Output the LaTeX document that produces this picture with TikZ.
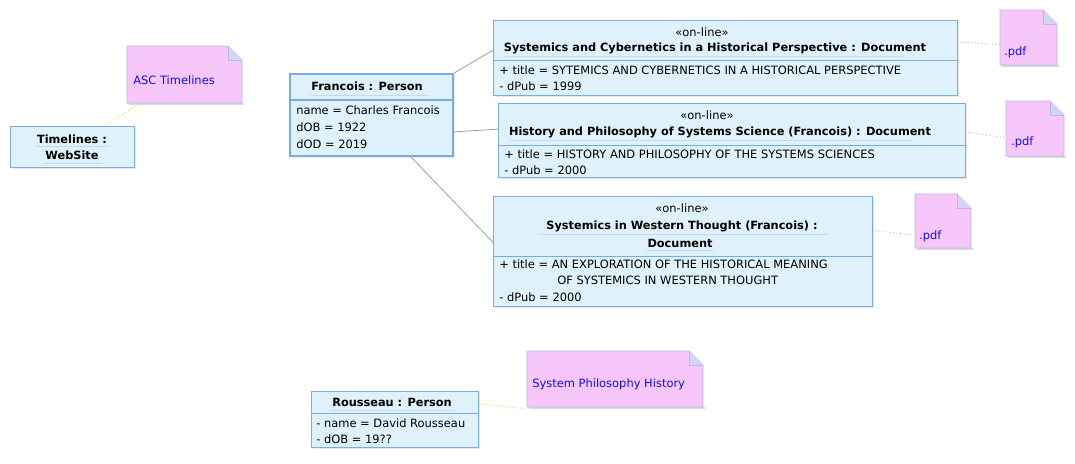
\documentclass[tikz,border=0pt]{standalone}
\usepackage{fontspec}
\setmainfont{DejaVu Sans}
\usetikzlibrary{shadows,calc}
\definecolor{boxfill}{HTML}{DFF2FC}
\definecolor{boxline}{HTML}{7AACDC}
\definecolor{notefill}{HTML}{F7C6FB}
\definecolor{noteline}{HTML}{B8B8F0}
\definecolor{notetext}{HTML}{1010E0}
\tikzset{
  obj/.style={draw=boxline,fill=boxfill,anchor=north west,inner sep=0,
     drop shadow={shadow xshift=1.2pt,shadow yshift=-1.2pt,fill=gray!35}},
  objthick/.style={obj,line width=1.6pt},
  hole/.style={anchor=north west,inner sep=0},
  txt/.style={font=\fontsize{8.6}{10}\selectfont,inner sep=0},
  btxt/.style={font=\fontsize{8.5}{10}\selectfont\bfseries,inner sep=0},
  ntxt/.style={font=\fontsize{8.6}{10}\selectfont,text=notetext,inner sep=0},
  link/.style={draw=gray!75,line width=0.6pt},
  dlink/.style={draw=gray!70,line width=0.6pt,dotted},
  ylink/.style={draw=yellow!60!orange,line width=0.6pt,dotted},
  sep/.style={draw=boxline,line width=0.6pt},
  ul/.style={draw=boxline!45,line width=0.4pt},
}
\newcommand{\mynote}[5]{% name, x1,y1,x2,y2
  \node[hole,minimum width={#4-#2},minimum height={#5-#3}] (#1) at (#2,#3) {};
  \fill[gray!30] (#2+2,#5) rectangle (#4+2,#5+2);
  \filldraw[fill=notefill,draw=noteline,line width=0.6pt]
    (#2,#3) -- (#4-14,#3) -- (#4,#3+14) -- (#4,#5) -- (#2,#5) -- cycle;
  \draw[noteline,line width=0.6pt,fill=noteline!60] (#4-14,#3) -- (#4-14,#3+14) -- (#4,#3+14);
}
\begin{document}
\begin{tikzpicture}[x=0.75pt,y=-0.75pt]
\useasboundingbox[fill=white] (0,0) rectangle (1075,464);

% Timelines
\node[obj,minimum width=124*0.75pt,minimum height=41*0.75pt] (tl) at (10,126) {};
\node[btxt] at (72,139) {Timelines :};
\node[btxt] at (72,155) {WebSite};
\draw[ul] (36,146) -- (110,146); \draw[ul] (44,163) -- (102,163);
\mynote{asc}{127}{46}{242}{103}
\node[ntxt,anchor=west] at (133,80) {ASC Timelines};
\draw[ylink] (105,126) -- (140,103);

% Francois
\node[objthick,minimum width=163*0.75pt,minimum height=82*0.75pt] (fr) at (289,73) {};
\draw[sep,line width=1.6pt] (289,100) -- (452,100);
\node[btxt] at (367,86) {Francois : Person};
\draw[ul] (310,95) -- (428,95);
\node[txt,anchor=west] at (296,110) {name = Charles Francois};
\node[txt,anchor=west] at (296,127) {dOB = 1922};
\node[txt,anchor=west] at (296,144) {dOD = 2019};

% Doc1
\node[obj,minimum width=464*0.75pt,minimum height=75*0.75pt] (d1) at (493,20) {};
\draw[sep] (493,60) -- (957,60);
\node[txt] at (702,32) {«on-line»};
\node[btxt] at (715,48) {Systemics and Cybernetics in a Historical Perspective : Document};
\draw[ul] (505,56) -- (903,56);
\node[txt,anchor=west] at (499,70) {+ title = SYTEMICS AND CYBERNETICS IN A HISTORICAL PERSPECTIVE};
\node[txt,anchor=west] at (499,86) {- dPub = 1999};
\mynote{p1}{1000}{10}{1057}{65}
\node[ntxt,anchor=west] at (1004,52) {.pdf};

% Doc2
\node[obj,minimum width=467*0.75pt,minimum height=74*0.75pt] (d2) at (498,103) {};
\draw[sep] (498,145) -- (965,145);
\node[txt] at (707,115) {«on-line»};
\node[btxt] at (720,132) {History and Philosophy of Systems Science (Francois) : Document};
\draw[ul] (510,140) -- (912,140);
\node[txt,anchor=west] at (504,154) {+ title = HISTORY AND PHILOSOPHY OF THE SYSTEMS SCIENCES};
\node[txt,anchor=west] at (504,170) {- dPub = 2000};
\mynote{p2}{1006}{101}{1064}{156}
\node[ntxt,anchor=west] at (1011,142) {.pdf};

% Doc3
\node[obj,minimum width=379*0.75pt,minimum height=110*0.75pt] (d3) at (493,196) {};
\draw[sep] (493,256) -- (872,256);
\node[txt] at (682,208) {«on-line»};
\node[btxt] at (682,226) {Systemics in Western Thought (Francois) :};
\node[btxt] at (680,243) {Document};
\draw[ul] (538,234) -- (828,234); \draw[ul] (646,250) -- (714,250);
\node[txt,anchor=west] at (499,264) {+ title = AN EXPLORATION OF THE HISTORICAL MEANING};
\node[txt,anchor=west] at (557,280) {OF SYSTEMICS IN WESTERN THOUGHT};
\node[txt,anchor=west] at (499,297) {- dPub = 2000};
\mynote{p3}{915}{194}{971}{248}
\node[ntxt,anchor=west] at (919,236) {.pdf};

% Rousseau
\node[obj,minimum width=167*0.75pt,minimum height=56*0.75pt] (rs) at (311,391) {};
\draw[sep] (311,413) -- (478,413);
\node[btxt] at (392,402) {Rousseau : Person};
\draw[ul] (330,410) -- (455,410);
\node[txt,anchor=west] at (316,423) {- name = David Rousseau};
\node[txt,anchor=west] at (316,439) {- dOB = 19??};
\mynote{sph}{527}{351}{703}{407}
\node[ntxt,anchor=west] at (532,384) {System Philosophy History};

% connectors
\draw[link] (fr.north east) -- ($(d1.north west)!0.4!(d1.south west)$);
\draw[link] ($(fr.north east)!0.7!(fr.south east)$) -- ($(d2.north west)!0.35!(d2.south west)$);
\draw[link] ($(fr.south west)!0.74!(fr.south east)$) -- ($(d3.north west)!0.42!(d3.south west)$);
\draw[dlink] ($(d1.north east)!0.29!(d1.south east)$) -- ($(p1.north west)!0.47!(p1.south west)$);
\draw[dlink] ($(d2.north east)!0.39!(d2.south east)$) -- ($(p2.north west)!0.5!(p2.south west)$);
\draw[dlink] ($(d3.north east)!0.31!(d3.south east)$) -- ($(p3.north west)!0.57!(p3.south west)$);
\draw[ylink] ($(rs.north east)!0.23!(rs.south east)$) -- ($(sph.north west)!0.77!(sph.south west)$);
\end{tikzpicture}
\end{document}
